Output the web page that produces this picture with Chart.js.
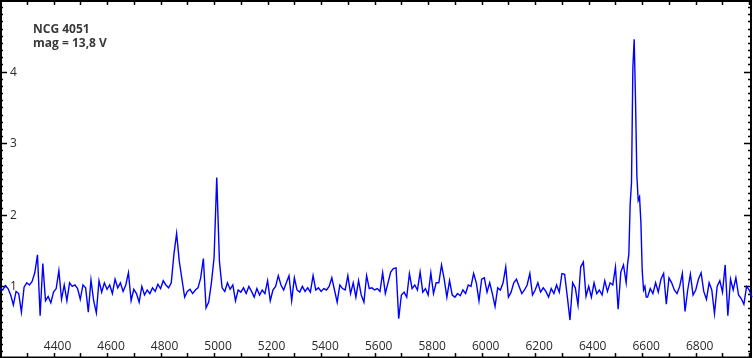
<!DOCTYPE html>
<html>
<head>
<meta charset="utf-8">
<script src="https://cdn.jsdelivr.net/npm/chart.js@4"></script>
<style>
  html, body { margin: 0; padding: 0; background: #fff; }
  canvas { display: block; }
</style>
</head>
<body>
<canvas id="myChart" width="753" height="358"></canvas>
<script>
// spectrum sampled every 10 A starting at 4200 A
var wlStart = 4200;
var wlStep = 10;
var flux = [
  // 4200
  0.97, 0.95, 1.01, 0.97, 0.88, 0.74, 0.93, 0.90, 0.64, 0.99,
  // 4300
  1.05, 1.02, 1.07, 1.19, 1.44, 0.59, 1.32, 0.80, 0.86, 0.77,
  // 4400
  0.92, 0.97, 1.22, 0.82, 1.02, 0.80, 1.05, 1.00, 1.02, 0.97,
  // 4500
  0.82, 1.02, 0.98, 0.64, 1.09, 0.80, 0.63, 1.08, 0.92, 1.05,
  // 4600
  0.96, 1.02, 0.90, 1.10, 0.98, 1.05, 0.93, 1.02, 1.19, 0.80,
  // 4700
  0.96, 0.90, 0.78, 1.00, 0.88, 0.95, 0.90, 0.98, 0.93, 1.03,
  // 4800
  0.97, 1.08, 1.02, 0.98, 1.05, 1.45, 1.74, 1.35, 1.10, 0.85,
  // 4900
  0.93, 0.96, 0.90, 0.95, 0.98, 1.12, 1.39, 0.70, 0.78, 1.05,
  // 5000
  1.40, 2.52, 1.35, 0.98, 0.93, 1.05, 0.96, 1.02, 0.80, 0.95,
  // 5100
  0.92, 0.98, 0.90, 1.00, 0.93, 0.85, 0.97, 0.88, 0.95, 0.90,
  // 5200
  1.08, 0.80, 0.95, 1.00, 1.15, 1.02, 0.95, 1.05, 1.15, 0.80,
  // 5300
  1.12, 0.95, 0.92, 1.00, 0.93, 0.98, 0.92, 1.15, 0.95, 0.98,
  // 5400
  0.93, 0.97, 0.95, 1.00, 1.12, 0.95, 0.78, 1.02, 0.97, 0.95,
  // 5500
  1.15, 0.90, 1.05, 0.85, 1.08, 0.88, 0.78, 1.15, 0.97, 0.98,
  // 5600
  0.95, 0.97, 0.93, 1.19, 0.90, 1.05, 1.20, 1.25, 1.26, 0.55,
  // 5700
  0.88, 0.92, 0.85, 1.18, 0.97, 1.02, 0.95, 1.20, 0.92, 0.97,
  // 5800
  0.88, 1.19, 0.90, 1.05, 1.05, 1.30, 1.10, 0.85, 1.08, 0.88,
  // 5900
  0.85, 0.90, 0.87, 0.95, 0.90, 1.02, 1.00, 1.18, 1.05, 0.80,
  // 6000
  1.10, 1.12, 0.92, 1.05, 0.90, 0.72, 0.98, 0.95, 1.05, 1.27,
  // 6100
  0.85, 0.92, 1.05, 1.10, 1.00, 0.90, 0.95, 1.02, 1.18, 0.88,
  // 6200
  0.95, 1.05, 0.92, 0.98, 0.93, 0.85, 0.97, 0.90, 1.02, 0.92,
  // 6300
  1.18, 1.17, 0.86, 0.53, 1.05, 0.98, 0.74, 1.27, 1.34, 0.86,
  // 6400
  1.00, 0.85, 1.05, 0.90, 0.95, 0.88, 1.08, 0.93, 1.05, 1.02,
  // 6500
  1.27, 0.68, 1.20, 1.30, 1.05, 1.40, 2.20, 4.15, 4.45, 2.30,
  // 6600
  2.30, 1.32, 0.85, 0.97, 0.90, 1.05, 0.92, 1.10, 1.18, 0.75,
  // 6700
  1.12, 1.05, 0.95, 0.90, 1.00, 1.18, 0.65, 0.95, 1.17, 0.88,
  // 6800
  0.95, 1.10, 1.19, 0.93, 0.82, 1.05, 0.95, 0.62, 1.00, 1.08,
  // 6900
  0.92, 1.30, 0.59, 1.10, 0.95, 1.12, 0.88, 0.83, 0.75, 1.00,
  // 7000
  0.95, 0.85
];

// H-alpha + [NII] blend, read at 5 A
var haStart = 6545;
var haStep = 5;
var haFlux = [1.30, 1.45, 2.15, 2.45, 4.05, 4.45, 3.60, 2.55, 2.20, 2.25, 1.90, 1.22, 0.95, 1.00, 0.85];

var xTicks = [4300, 4400, 4500, 4600, 4700, 4800, 4900, 5000, 5100, 5200, 5300, 5400, 5500,
  5600, 5700, 5800, 5900, 6000, 6100, 6200, 6300, 6400, 6500, 6600, 6700, 6800, 6900, 7000];
var xLabels = [4400, 4600, 4800, 5000, 5200, 5400, 5600, 5800, 6000, 6200, 6400, 6600, 6800];
var yLabels = [1, 2, 3, 4];
var titleLines = ["NCG 4051", "mag = 13,8 V"];

var haEnd = haStart + (haFlux.length - 1) * haStep;
var points = [];
flux.forEach(function (f, i) {
  var wl = wlStart + i * wlStep;
  if (wl < haStart || wl > haEnd) points.push({ x: wl, y: f });
});
haFlux.forEach(function (f, i) {
  points.push({ x: haStart + i * haStep, y: f });
});
points.sort(function (a, b) { return a.x - b.x; });

// frame, inner ticks and labels (drawn under the spectrum)
const framePlugin = {
  id: "frame",
  beforeDatasetsDraw(chart) {
    const ctx = chart.ctx;
    const sx = chart.scales.x;
    const sy = chart.scales.y;
    const W = chart.width, H = chart.height;
    ctx.save();
    ctx.strokeStyle = "#000";
    ctx.lineWidth = 1.5;
    ctx.beginPath();
    xTicks.forEach((v) => {
      const px = Math.round(sx.getPixelForValue(v)) + 0.5;
      ctx.moveTo(px, 0);
      ctx.lineTo(px, 5);
      ctx.moveTo(px, H);
      ctx.lineTo(px, H - 5);
    });
    for (let i = 1; i < 50; i++) {
      const py = Math.round(sy.getPixelForValue(i / 10)) + 0.5;
      const len = i % 10 === 0 ? 7 : 3;
      ctx.moveTo(0, py);
      ctx.lineTo(len, py);
      ctx.moveTo(W - 2, py);
      ctx.lineTo(W - 2 - len, py);
    }
    ctx.stroke();
    ctx.lineWidth = 2;
    ctx.strokeRect(1, 1, W - 3, H - 1.5);

    ctx.fillStyle = "#2a2a2a";
    ctx.font = "12px 'Open Sans'";
    ctx.textAlign = "center";
    ctx.textBaseline = "middle";
    xLabels.forEach((v) => {
      ctx.fillText(String(v), sx.getPixelForValue(v) + 4, 347);
    });
    ctx.textAlign = "left";
    yLabels.forEach((v) => {
      ctx.fillText(String(v), 10, sy.getPixelForValue(v) + 0.5);
    });

    ctx.fillStyle = "#3a3a3a";
    ctx.font = "bold 12px 'Open Sans'";
    ctx.textBaseline = "alphabetic";
    ctx.fillText(titleLines[0], 33, 33);
    ctx.fillText(titleLines[1], 33, 47);
    ctx.restore();
  },
};

const ctx = document.getElementById("myChart").getContext("2d");
const myChart = new Chart(ctx, {
  type: "line",
  data: {
    datasets: [
      {
        data: points,
        borderColor: "#0000ff",
        borderWidth: 1.4,
        pointRadius: 0,
        tension: 0,
        fill: false,
      },
    ],
  },
  options: {
    responsive: false,
    animation: false,
    devicePixelRatio: 1,
    layout: { padding: 0 },
    plugins: {
      legend: { display: false },
      tooltip: { enabled: false },
    },
    scales: {
      x: { type: "linear", min: 4200, max: 7014, display: false },
      y: { type: "linear", min: 0, max: 5, display: false },
    },
  },
  plugins: [framePlugin],
});
</script>
</body>
</html>
